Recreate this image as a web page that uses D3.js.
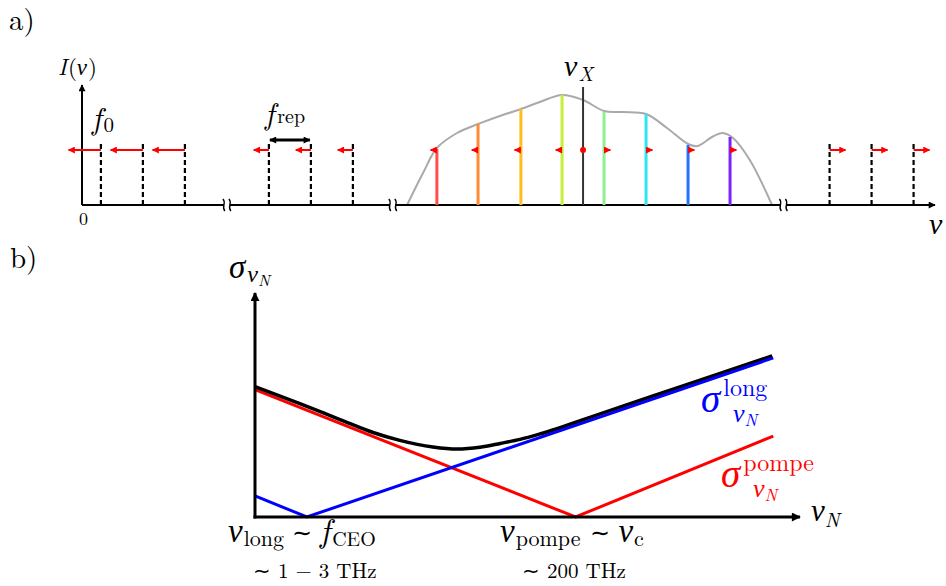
<!DOCTYPE html>
<html><head><meta charset="utf-8">
<script src="https://cdn.jsdelivr.net/npm/d3@7"></script>
<style>body{margin:0;background:#fff} svg{display:block}</style>
</head><body><svg id="c" width="946" height="586"></svg>
<script>
// ================= Panel a) data (frequency in units of f_rep) =================
const combLowPos  = [0.45, 1.45, 2.45];
const combMidPos  = [4.45, 5.45, 6.45];
const combHighPos = [17.8, 18.8, 19.8];
const combHeight  = 0.63;
const combLowShift  = -0.77;
const combMidShift  = -0.36;
const combHighShift = 0.38;
const specPos     = [8.45, 9.43, 10.45, 11.43, 12.43, 13.43, 14.43, 15.43];
const specHeights = [0.56, 0.81, 0.96, 1.10, 0.93, 0.91, 0.60, 0.68];
const specColors  = ["#ff4d4d", "#ff8a33", "#ffbf1a", "#c6ef3a", "#8ff08f", "#2ee6f0", "#2272ff", "#7a22ff"];
const specShift   = [-0.15, -0.15, -0.15, -0.15, 0.15, 0.15, 0.15, 0.15];
const shiftLevel  = 0.55;
const nuXPos = 11.93, nuXHeight = 1.18;
const envX = [7.74, 8.12, 8.45, 8.93, 9.43, 9.95, 10.45, 10.90, 11.43, 11.93, 12.43, 12.88, 13.43, 13.93, 14.43, 14.66, 15.0, 15.26, 15.5, 15.9, 16.43];
const envY = [0.00, 0.32, 0.57, 0.72, 0.81, 0.89, 0.96, 1.03, 1.10, 1.05, 0.94, 0.93, 0.91, 0.77, 0.61, 0.59, 0.68, 0.72, 0.67, 0.45, 0.00];
const breakPos = [3.45, 7.4, 16.7];
const frepFrom = 4.45, frepTo = 5.45;

// ================= Panel b) data =================
const redX   = [0, 6.0, 9.7];
const redY   = [5.0, 0, 3.18];
const blueX  = [0, 0.97, 9.7];
const blueY  = [0.83, 0, 6.25];
const blackX = [0, 0.84, 1.59, 2.21, 2.71, 3.33, 3.78, 4.21, 4.59, 4.96, 5.33, 6.46, 8.33, 9.68];
const blackY = [5.12, 4.45, 3.83, 3.32, 3.01, 2.75, 2.67, 2.74, 2.89, 3.05, 3.26, 4.05, 5.38, 6.33];

const svg = d3.select("#c");
const FONT = "Latin Modern Roman";
const GFONT = "Liberation Serif";

// markers
const defs = svg.append("defs");
function marker(id, color, w, h) {
  defs.append("marker").attr("id", id).attr("viewBox", "0 0 10 10")
    .attr("refX", 9).attr("refY", 5).attr("markerUnits", "userSpaceOnUse")
    .attr("markerWidth", w).attr("markerHeight", h).attr("orient", "auto-start-reverse")
    .append("path").attr("d", "M0,0 L10,5 L0,10 Z").attr("fill", color);
}
marker("ab", "#000", 10, 9);
marker("abs", "#000", 8, 7);
marker("ar", "#f00", 8, 7);

// math text helper: each part is its own <text>, chained horizontally
function mtext(x, y, parts, color) {
  let cx = x;
  parts.forEach(p => {
    if (p.x != null) cx = p.x;
    cx += (p.dx || 0);
    const greek = /[σν]/.test(p.t);
    const t = svg.append("text").attr("x", cx).attr("y", y + (p.dy || 0))
      .attr("font-family", greek ? GFONT : FONT)
      .attr("font-size", p.s)
      .attr("font-style", p.i ? "italic" : "normal")
      .attr("fill", color || "#000")
      .text(p.t);
    cx += t.node().getComputedTextLength();
  });
}

// ================= Panel a =================
const xa = d3.scaleLinear([0, 20.31], [82, 935]);
const ya = d3.scaleLinear([0, 1.2], [205, 85]);
const ga = svg.append("g");

// envelope
ga.append("path").datum(envX.map((d, i) => [d, envY[i]]))
  .attr("d", d3.line().x(d => xa(d[0])).y(d => ya(d[1])).curve(d3.curveCatmullRom))
  .attr("fill", "none").attr("stroke", "#aaa").attr("stroke-width", 2);

// axes
ga.append("line").attr("x1", xa(0)).attr("x2", xa(20.31)).attr("y1", ya(0)).attr("y2", ya(0))
  .attr("stroke", "#000").attr("stroke-width", 2).attr("marker-end", "url(#abs)");
ga.append("line").attr("x1", xa(0)).attr("x2", xa(0)).attr("y1", ya(0)).attr("y2", ya(1.2))
  .attr("stroke", "#000").attr("stroke-width", 2).attr("marker-end", "url(#abs)");

// comb teeth (dashed)
const combAll = [...combLowPos, ...combMidPos, ...combHighPos];
ga.selectAll(".tooth").data(combAll).join("line")
  .attr("x1", d => xa(d)).attr("x2", d => xa(d)).attr("y1", ya(0)).attr("y2", ya(combHeight))
  .attr("stroke", "#000").attr("stroke-width", 2.2).attr("stroke-dasharray", "5,3");

// spectrum lines
ga.selectAll(".spec").data(specPos).join("line")
  .attr("x1", d => xa(d)).attr("x2", d => xa(d)).attr("y1", ya(0)).attr("y2", (d, i) => ya(specHeights[i]))
  .attr("stroke", (d, i) => specColors[i]).attr("stroke-width", 3);
ga.append("line").attr("x1", xa(nuXPos)).attr("x2", xa(nuXPos)).attr("y1", ya(0)).attr("y2", ya(nuXHeight))
  .attr("stroke", "#333").attr("stroke-width", 2);

// red shift arrows
const arrows = [
  ...combLowPos.map(p => [p, combLowShift]),
  ...combMidPos.map(p => [p, combMidShift]),
  ...combHighPos.map(p => [p, combHighShift]),
  ...specPos.map((p, i) => [p, specShift[i]])
];
ga.selectAll(".arr").data(arrows).join("line")
  .attr("x1", d => xa(d[0])).attr("x2", d => xa(d[0] + d[1]))
  .attr("y1", ya(shiftLevel)).attr("y2", ya(shiftLevel))
  .attr("stroke", "#f00").attr("stroke-width", 2).attr("marker-end", "url(#ar)");
ga.append("circle").attr("cx", xa(nuXPos)).attr("cy", ya(shiftLevel)).attr("r", 3).attr("fill", "#f00");

// f_rep double arrow
ga.append("line").attr("x1", xa(frepFrom) + 1).attr("x2", xa(frepTo) - 1)
  .attr("y1", ya(combHeight) - 2).attr("y2", ya(combHeight) - 2)
  .attr("stroke", "#000").attr("stroke-width", 3)
  .attr("marker-start", "url(#abs)").attr("marker-end", "url(#abs)");

// axis breaks
breakPos.forEach(b => {
  const x = xa(b), y = ya(0);
  ga.append("rect").attr("x", x - 3).attr("y", y - 3).attr("width", 6).attr("height", 6).attr("fill", "#fff");
  [-3, 3].forEach(o => {
    ga.append("path").attr("d", `M${x + o - 1},${y - 6} C${x + o + 3},${y - 2} ${x + o - 3},${y + 2} ${x + o + 1},${y + 6}`)
      .attr("fill", "none").attr("stroke", "#000").attr("stroke-width", 1.4);
  });
});

// panel a labels
mtext(9, 30, [{t: "a)", s: 29}]);
mtext(58, 75, [{t: "I", s: 23, i: 1}, {t: "(", s: 23, dx: 1}, {t: "ν", s: 23, i: 1}, {t: ")", s: 23, dx: 1}]);
mtext(79, 225, [{t: "0", s: 18}]);
mtext(92, 129, [{t: "f", s: 31, i: 1}, {t: "0", s: 21, dy: 3, dx: 2}]);
mtext(265, 124, [{t: "f", s: 30, i: 1}, {t: "rep", s: 20, dy: -1, dx: 3}]);
mtext(564, 76, [{t: "ν", s: 30, i: 1}, {t: "X", s: 20, i: 1, dy: 5, dx: 1}]);
mtext(929, 234, [{t: "ν", s: 30, i: 1}]);

// ================= Panel b =================
const xb = d3.scaleLinear([0, 10.2], [255, 800]);
const yb = d3.scaleLinear([0, 8.8], [517, 293]);
const gb = svg.append("g");
const lineB = d3.line().x(d => xb(d[0])).y(d => yb(d[1]));

gb.append("path").datum(redX.map((d, i) => [d, redY[i]])).attr("d", lineB)
  .attr("fill", "none").attr("stroke", "#f00").attr("stroke-width", 3);
gb.append("path").datum(blackX.map((d, i) => [d, blackY[i]])).attr("d", lineB.curve(d3.curveMonotoneX))
  .attr("fill", "none").attr("stroke", "#000").attr("stroke-width", 3.5);
lineB.curve(d3.curveLinear);
gb.append("path").datum(blueX.map((d, i) => [d, blueY[i]])).attr("d", lineB)
  .attr("fill", "none").attr("stroke", "#00f").attr("stroke-width", 3);

gb.append("line").attr("x1", xb(0)).attr("x2", xb(0)).attr("y1", yb(0) + 1.5).attr("y2", yb(8.8))
  .attr("stroke", "#000").attr("stroke-width", 3).attr("marker-end", "url(#ab)");
gb.append("line").attr("x1", xb(0) - 1.5).attr("x2", xb(10.2)).attr("y1", yb(0)).attr("y2", yb(0))
  .attr("stroke", "#000").attr("stroke-width", 3).attr("marker-end", "url(#ab)");

// panel b labels
mtext(10, 268, [{t: "b)", s: 29}]);
mtext(229, 278, [{t: "σ", s: 33, i: 1}, {t: "ν", s: 24, i: 1, dy: 4, dx: 2}, {t: "N", s: 16, i: 1, dy: 8}]);
mtext(811, 521, [{t: "ν", s: 31, i: 1}, {t: "N", s: 20, i: 1, dy: 6}]);
mtext(228, 542, [{t: "ν", s: 33, i: 1}, {t: "long", s: 22, dy: 4, dx: 1}, {t: "∼", s: 24, dy: -1, dx: 8}, {t: "f", s: 33, i: 1, dx: 8}, {t: "CEO", s: 20, dy: 4, dx: 2}]);
mtext(253, 578, [{t: "∼ 1 − 3 THz", s: 21}]);
mtext(500, 542, [{t: "ν", s: 33, i: 1}, {t: "pompe", s: 22, dy: 4, dx: 1}, {t: "∼", s: 24, dy: -1, dx: 10}, {t: "ν", s: 33, i: 1, dx: 8}, {t: "c", s: 22, dy: 4, dx: 1}]);
mtext(522, 578, [{t: "∼ 200 THz", s: 21}]);
mtext(701, 412, [{t: "σ", s: 39, i: 1}, {t: "long", s: 24, dy: -16, dx: 3}, {t: "ν", s: 26, i: 1, dy: 10, x: 733}, {t: "N", s: 17, i: 1, dy: 14}], "#00f");
mtext(721, 487, [{t: "σ", s: 39, i: 1}, {t: "pompe", s: 24, dy: -16, dx: 3}, {t: "ν", s: 26, i: 1, dy: 10, x: 753}, {t: "N", s: 17, i: 1, dy: 14}], "#f00");
</script></body></html>
